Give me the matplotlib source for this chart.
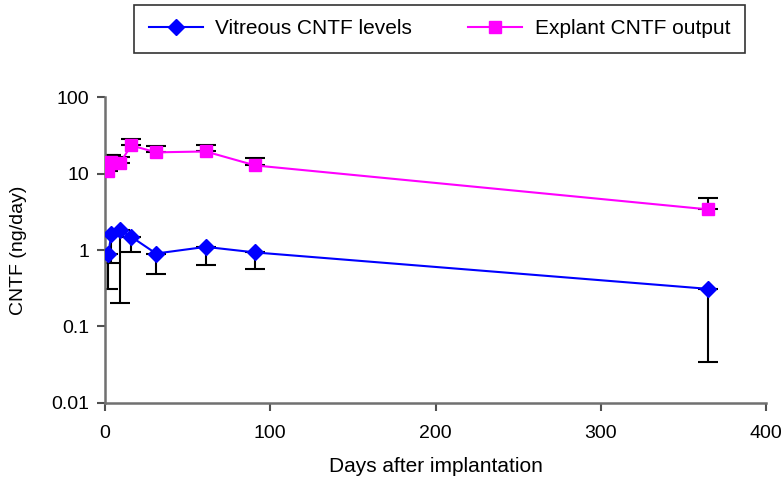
import numpy as np
import matplotlib
matplotlib.use("Agg")
import matplotlib.pyplot as plt

plt.rcParams["font.family"] = ["Liberation Sans", "DejaVu Sans"]

# days after implantation
days = [2, 4, 9, 16, 31, 61, 91, 365]

# vitreous CNTF levels (ng/day) with lower error bound
vitreous = [0.88, 1.6, 1.82, 1.49, 0.90, 1.10, 0.93, 0.31]
vitreous_low = [0.31, 0.68, 0.20, 0.95, 0.48, 0.64, 0.56, 0.034]

# explant CNTF output (ng/day) with upper error bound
explant = [10.7, 14.0, 13.6, 23.4, 19.0, 19.5, 12.8, 3.4]
explant_high = [17.3, 17.3, 16.3, 28.6, 22.7, 23.4, 16.2, 4.86]

yticks = [0.01, 0.1, 1, 10, 100]
ytick_labels = ["0.01", "0.1", "1", "10", "100"]
xticks = [0, 100, 200, 300, 400]

fig = plt.figure(figsize=(7.82, 4.79), dpi=100)
ax = fig.add_axes([0.134, 0.159, 0.846, 0.638])

v = np.array(vitreous)
e = np.array(explant)
v_err = [v - np.array(vitreous_low), np.zeros_like(v)]
e_err = [np.zeros_like(e), np.array(explant_high) - e]

ax.errorbar(days, vitreous, yerr=v_err, fmt="none", ecolor="black",
            elinewidth=1.5, capsize=7, capthick=1.5, zorder=2)
ax.errorbar(days, explant, yerr=e_err, fmt="none", ecolor="black",
            elinewidth=1.5, capsize=7, capthick=1.5, zorder=2)

ax.plot(days, vitreous, color="#0000FF", marker="D", markersize=8,
        linewidth=1.5, label="Vitreous CNTF levels", zorder=3)
ax.plot(days, explant, color="#FF00FF", marker="s", markersize=8.5,
        linewidth=1.5, label="Explant CNTF output", zorder=3)

ax.set_yscale("log")
ax.set_ylim(0.01, 100)
ax.set_xlim(0, 400)
ax.set_yticks(yticks)
ax.set_yticklabels(ytick_labels)
ax.set_xticks(xticks)
ax.minorticks_off()

ax.spines["top"].set_visible(False)
ax.spines["right"].set_visible(False)
for s in ["left", "bottom"]:
    ax.spines[s].set_color("#707070")
    ax.spines[s].set_linewidth(1.8)
ax.tick_params(direction="out", length=6, width=1.5, color="#505050",
               labelsize=14, pad=5)
ax.tick_params(axis="x", pad=10)

ax.set_xlabel("Days after implantation", fontsize=15, labelpad=11)
ax.set_ylabel("CNTF (ng/day)", fontsize=14, labelpad=18)

leg = fig.legend(loc="upper center", bbox_to_anchor=(0.562, 0.99), ncol=2,
                 fontsize=15, frameon=True, fancybox=False, edgecolor="black",
                 handlelength=2.6, handletextpad=0.6, columnspacing=2.7,
                 borderpad=0.7, borderaxespad=0)
leg.get_frame().set_linewidth(1.2)

fig.savefig("out.png", dpi=100)
